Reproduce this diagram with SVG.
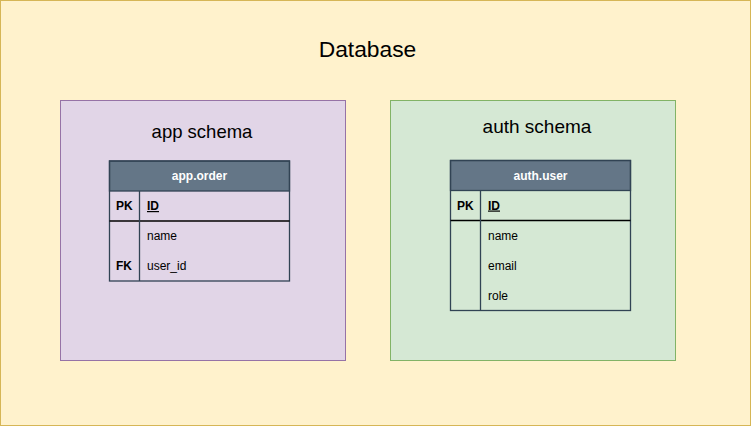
<svg xmlns="http://www.w3.org/2000/svg" width="751" height="426" viewBox="0 0 751 426">
<style>
text{font-family:"Liberation Sans",Arial,Helvetica,sans-serif;fill:#000}
.tbl{fill:none;stroke:#314354;stroke-width:1.3}
.hdr{fill:#647687;stroke:#314354;stroke-width:1.3}
.ht{font-size:12px;font-weight:bold;fill:#fff;text-anchor:middle}
.c{font-size:12px}
.b{font-weight:bold}
.u{text-decoration:underline}
</style>
<g id="database">
<rect x="0.5" y="0.5" width="750" height="425" fill="#fff2cc" stroke="#d6b656"/>
<text x="367.5" y="57.3" font-size="22.8" text-anchor="middle">Database</text>
</g>
<g id="app-schema">
<rect x="60.5" y="100.5" width="285" height="260" fill="#e1d5e7" stroke="#9673a6"/>
<text x="202" y="137.7" font-size="18.5" text-anchor="middle">app schema</text>
</g>
<g id="auth-schema">
<rect x="390.5" y="100.5" width="285" height="260" fill="#d5e8d4" stroke="#82b366"/>
<text x="537" y="133" font-size="19" text-anchor="middle">auth schema</text>
</g>
<g id="app-order">
<rect class="hdr" x="109.5" y="161" width="180" height="30"/>
<text class="ht" x="199.5" y="180">app.order</text>
<rect class="tbl" x="109.5" y="161" width="180" height="120"/>
<line x1="109.5" y1="221" x2="289.5" y2="221" stroke="#000" stroke-width="1.3"/>
<line x1="139.5" y1="191" x2="139.5" y2="281" stroke="#314354" stroke-width="1.3"/>
<text class="c b" x="116" y="210">PK</text>
<text class="c b u" x="147" y="210">ID</text>
<text class="c" x="147" y="240">name</text>
<text class="c b" x="116" y="270">FK</text>
<text class="c" x="147" y="270">user_id</text>
</g>
<g id="auth-user">
<rect class="hdr" x="450.5" y="160.5" width="180" height="30"/>
<text class="ht" x="540.5" y="179.5">auth.user</text>
<rect class="tbl" x="450.5" y="160.5" width="180" height="150"/>
<line x1="450.5" y1="220.5" x2="630.5" y2="220.5" stroke="#000" stroke-width="1.3"/>
<line x1="480.5" y1="190.5" x2="480.5" y2="310.5" stroke="#314354" stroke-width="1.3"/>
<text class="c b" x="457" y="209.5">PK</text>
<text class="c b u" x="488" y="209.5">ID</text>
<text class="c" x="488" y="239.5">name</text>
<text class="c" x="488" y="269.5">email</text>
<text class="c" x="488" y="299.5">role</text>
</g>
<g id="connectors"></g>
</svg>
